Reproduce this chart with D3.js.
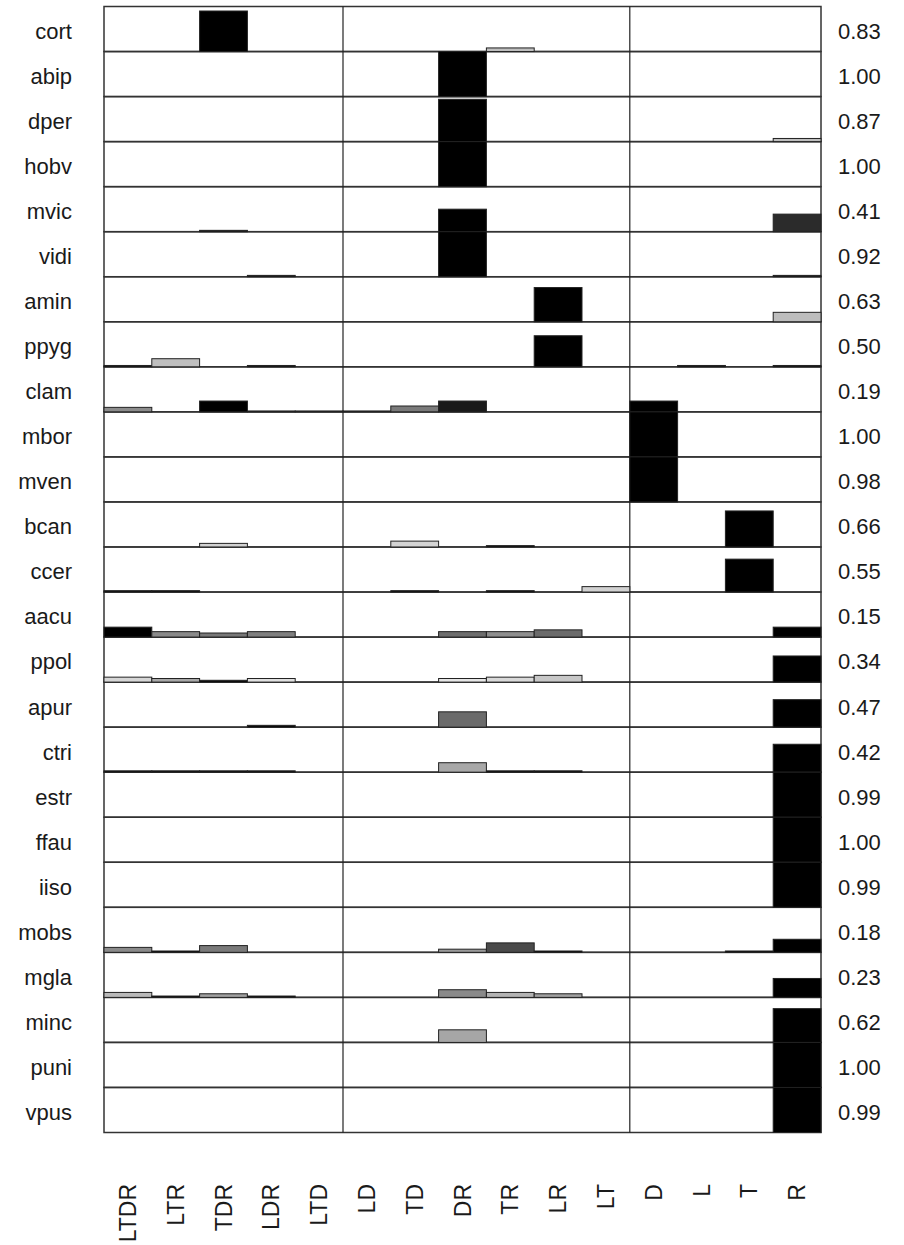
<!DOCTYPE html>
<html>
<head>
<meta charset="utf-8">
<script src="https://cdn.jsdelivr.net/npm/d3@7"></script>
<style>
  body { margin: 0; background: #fff; }
  text { font-family: "Liberation Sans", Arial, sans-serif; fill: #1a1a1a; }
</style>
</head>
<body>
<div id="chart"></div>
<script>
const species = ["cort", "abip", "dper", "hobv", "mvic", "vidi", "amin", "ppyg", "clam",
  "mbor", "mven", "bcan", "ccer", "aacu", "ppol", "apur", "ctri", "estr", "ffau", "iiso",
  "mobs", "mgla", "minc", "puni", "vpus"];

const categories = ["LTDR", "LTR", "TDR", "LDR", "LTD", "LD", "TD", "DR", "TR", "LR", "LT",
  "D", "L", "T", "R"];

const scores = ["0.83", "1.00", "0.87", "1.00", "0.41", "0.92", "0.63", "0.50", "0.19",
  "1.00", "0.98", "0.66", "0.55", "0.15", "0.34", "0.47", "0.42", "0.99", "1.00", "0.99",
  "0.18", "0.23", "0.62", "1.00", "0.99"];

// bar heights, one row per species, in the order of categories
const values = [
  [0, 0, .90, 0, 0, 0, 0, 0, .08, 0, 0, 0, 0, 0, 0],
  [0, 0, 0, 0, 0, 0, 0, 1, 0, 0, 0, 0, 0, 0, 0],
  [0, 0, 0, 0, 0, 0, 0, .94, 0, 0, 0, 0, 0, 0, .07],
  [0, 0, 0, 0, 0, 0, 0, 1, 0, 0, 0, 0, 0, 0, 0],
  [0, 0, .03, 0, 0, 0, 0, .50, 0, 0, 0, 0, 0, 0, .39],
  [0, 0, 0, .03, 0, 0, 0, 1, 0, 0, 0, 0, 0, 0, .03],
  [0, 0, 0, 0, 0, 0, 0, 0, 0, .76, 0, 0, 0, 0, .21],
  [.03, .18, 0, .03, 0, 0, 0, 0, 0, .69, 0, 0, .03, 0, .03],
  [.10, 0, .24, .02, .02, .02, .13, .24, 0, 0, 0, .24, 0, 0, 0],
  [0, 0, 0, 0, 0, 0, 0, 0, 0, 0, 0, 1, 0, 0, 0],
  [0, 0, 0, 0, 0, 0, 0, 0, 0, 0, 0, 1, 0, 0, 0],
  [0, 0, .08, 0, 0, 0, .13, 0, .03, 0, 0, 0, 0, .80, 0],
  [.03, .03, 0, 0, 0, 0, .03, 0, .03, 0, .12, 0, 0, .73, 0],
  [.22, .12, .09, .12, 0, 0, 0, .12, .12, .16, 0, 0, 0, 0, .22],
  [.11, .08, .04, .08, 0, 0, 0, .08, .11, .15, 0, 0, 0, 0, .58],
  [0, 0, 0, .04, 0, 0, 0, .34, 0, 0, 0, 0, 0, 0, .61],
  [.03, .03, .03, .03, 0, 0, 0, .21, .03, .03, 0, 0, 0, 0, .62],
  [0, 0, 0, 0, 0, 0, 0, 0, 0, 0, 0, 0, 0, 0, 1],
  [0, 0, 0, 0, 0, 0, 0, 0, 0, 0, 0, 0, 0, 0, 1],
  [0, 0, 0, 0, 0, 0, 0, 0, 0, 0, 0, 0, 0, 0, 1],
  [.11, .03, .15, 0, 0, 0, 0, .07, .21, .03, 0, 0, 0, .03, .29],
  [.11, .03, .08, .03, 0, 0, 0, .17, .11, .08, 0, 0, 0, 0, .42],
  [0, 0, 0, 0, 0, 0, 0, .28, 0, 0, 0, 0, 0, 0, .75],
  [0, 0, 0, 0, 0, 0, 0, 0, 0, 0, 0, 0, 0, 0, 1],
  [0, 0, 0, 0, 0, 0, 0, 0, 0, 0, 0, 0, 0, 0, 1]
];

// grey level of each bar (0 = black, 1 = white)
const shades = [
  [0, 0, 0, 0, 0, 0, 0, 0, .75, 0, 0, 0, 0, 0, 0],
  [0, 0, 0, 0, 0, 0, 0, 0, 0, 0, 0, 0, 0, 0, 0],
  [0, 0, 0, 0, 0, 0, 0, 0, 0, 0, 0, 0, 0, 0, .75],
  [0, 0, 0, 0, 0, 0, 0, 0, 0, 0, 0, 0, 0, 0, 0],
  [0, 0, 0, 0, 0, 0, 0, 0, 0, 0, 0, 0, 0, 0, .17],
  [0, 0, 0, 0, 0, 0, 0, 0, 0, 0, 0, 0, 0, 0, 0],
  [0, 0, 0, 0, 0, 0, 0, 0, 0, 0, 0, 0, 0, 0, .74],
  [0, .75, 0, 0, 0, 0, 0, 0, 0, 0, 0, 0, 0, 0, 0],
  [.55, 0, 0, 0, 0, 0, .48, .1, 0, 0, 0, 0, 0, 0, 0],
  [0, 0, 0, 0, 0, 0, 0, 0, 0, 0, 0, 0, 0, 0, 0],
  [0, 0, 0, 0, 0, 0, 0, 0, 0, 0, 0, 0, 0, 0, 0],
  [0, 0, .82, 0, 0, 0, .83, 0, 0, 0, 0, 0, 0, 0, 0],
  [0, 0, 0, 0, 0, 0, 0, 0, 0, 0, .82, 0, 0, 0, 0],
  [0, .54, .47, .5, 0, 0, 0, .43, .56, .42, 0, 0, 0, 0, 0],
  [.84, .66, 0, .88, 0, 0, 0, .9, .85, .78, 0, 0, 0, 0, 0],
  [0, 0, 0, 0, 0, 0, 0, .42, 0, 0, 0, 0, 0, 0, 0],
  [0, 0, 0, 0, 0, 0, 0, .66, 0, 0, 0, 0, 0, 0, 0],
  [0, 0, 0, 0, 0, 0, 0, 0, 0, 0, 0, 0, 0, 0, 0],
  [0, 0, 0, 0, 0, 0, 0, 0, 0, 0, 0, 0, 0, 0, 0],
  [0, 0, 0, 0, 0, 0, 0, 0, 0, 0, 0, 0, 0, 0, 0],
  [.54, 0, .48, 0, 0, 0, 0, .6, .29, 0, 0, 0, 0, 0, 0],
  [.73, 0, .63, 0, 0, 0, 0, .54, .7, .63, 0, 0, 0, 0, 0],
  [0, 0, 0, 0, 0, 0, 0, .65, 0, 0, 0, 0, 0, 0, 0],
  [0, 0, 0, 0, 0, 0, 0, 0, 0, 0, 0, 0, 0, 0, 0],
  [0, 0, 0, 0, 0, 0, 0, 0, 0, 0, 0, 0, 0, 0, 0]
];

// column groups separated by vertical lines
const groupBreaks = ["LD", "D"];

const width = 904;
const height = 1245;
const plotLeft = 104, plotRight = 821, plotTop = 6.5, plotBottom = 1132.5;

const svg = d3.select("#chart")
  .append("svg")
  .attr("width", width)
  .attr("height", height);

const x = d3.scaleBand().domain(categories).range([plotLeft, plotRight]);
const row = d3.scaleBand().domain(species).range([plotTop, plotBottom]);
const y = d3.scaleLinear().domain([0, 1]).range([0, row.bandwidth()]);
const grey = (s) => d3.rgb(255 * s, 255 * s, 255 * s);

// row frames
svg.append("g")
  .selectAll("rect")
  .data(species)
  .join("rect")
  .attr("x", plotLeft)
  .attr("y", (d) => row(d))
  .attr("width", plotRight - plotLeft)
  .attr("height", row.bandwidth())
  .attr("fill", "none")
  .attr("stroke", "#333")
  .attr("stroke-width", 1.5);

// group separators
svg.append("g")
  .selectAll("line")
  .data(groupBreaks)
  .join("line")
  .attr("x1", (d) => x(d))
  .attr("x2", (d) => x(d))
  .attr("y1", plotTop)
  .attr("y2", plotBottom)
  .attr("stroke", "#222")
  .attr("stroke-width", 1.2);

// bars
const bars = [];
species.forEach((sp, i) => {
  categories.forEach((c, j) => {
    if (values[i][j] > 0) bars.push({ sp, c, v: values[i][j], s: shades[i][j] });
  });
});

svg.append("g")
  .selectAll("rect")
  .data(bars)
  .join("rect")
  .attr("x", (d) => x(d.c))
  .attr("y", (d) => row(d.sp) + row.bandwidth() - y(d.v))
  .attr("width", x.bandwidth())
  .attr("height", (d) => y(d.v))
  .attr("fill", (d) => grey(d.s))
  .attr("stroke", "#222")
  .attr("stroke-width", 1);

// species labels
svg.append("g")
  .selectAll("text")
  .data(species)
  .join("text")
  .attr("x", 72)
  .attr("y", (d) => row(d) + row.bandwidth() / 2)
  .attr("dy", "0.45em")
  .attr("text-anchor", "end")
  .style("font-size", "22px")
  .text((d) => d);

// scores on the right
svg.append("g")
  .selectAll("text")
  .data(species)
  .join("text")
  .attr("x", 838)
  .attr("y", (d) => row(d) + row.bandwidth() / 2)
  .attr("dy", "0.45em")
  .style("font-size", "22px")
  .text((d, i) => scores[i]);

// category labels, vertical
svg.append("g")
  .selectAll("text")
  .data(categories)
  .join("text")
  .attr("transform", (d) => `translate(${x(d) + x.bandwidth() / 2},1184) rotate(-90)`)
  .attr("dy", "0.35em")
  .attr("text-anchor", "end")
  .style("font-size", "23px")
  .text((d) => d);
</script>
</body>
</html>
